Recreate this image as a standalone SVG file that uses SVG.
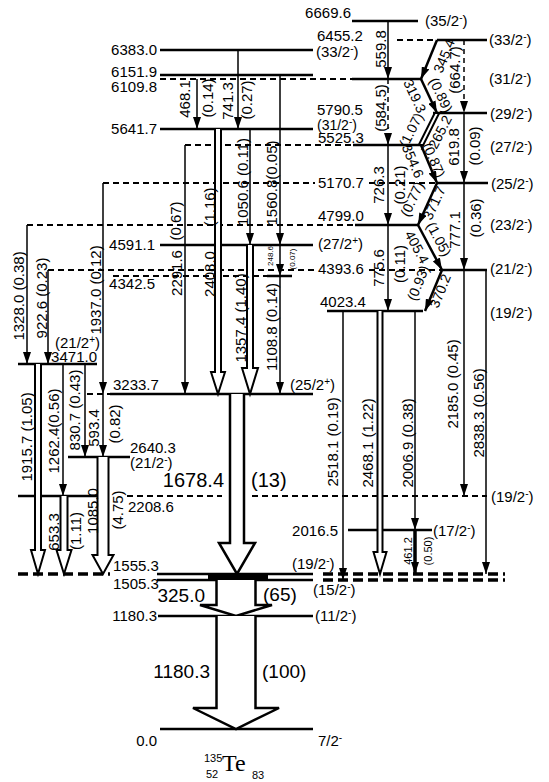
<svg xmlns="http://www.w3.org/2000/svg" width="549" height="782" viewBox="0 0 549 782">
<defs>
<style>
text{font-family:"Liberation Sans",Arial,sans-serif;font-size:15px;fill:#000}
.e{text-anchor:end}
.v{text-anchor:middle;dominant-baseline:central}
.s{font-size:10px;baseline-shift:super}
.big{font-size:19px}
.sm{font-size:8px}
.sm2{font-size:11px}
.zl{font-size:14px}
.lv{stroke:#000;stroke-width:2.5;fill:none}
.ld{stroke:#000;stroke-width:2;stroke-dasharray:6 4;fill:none}
.lk{stroke:#000;stroke-width:3.5;stroke-dasharray:10 5;fill:none}
.t{stroke:#000;stroke-width:1.5;fill:none;marker-end:url(#a)}
.td{stroke:#000;stroke-width:1.5;fill:none;stroke-dasharray:5 4;marker-end:url(#a)}
.z{stroke:#000;stroke-width:2.5;fill:none;marker-end:url(#a)}
.o{fill:#fff;stroke:#000;stroke-width:2;stroke-linejoin:miter}
</style>
<marker id="a" markerUnits="userSpaceOnUse" markerWidth="12" markerHeight="8" viewBox="0 0 12 8" refX="12" refY="4" orient="auto"><path d="M0,0L12,4L0,8z" fill="#000"/></marker>
</defs>
<rect width="549" height="782" fill="#fff"/>

<!-- levels -->
<g id="lvl-6669.6"><path class="lv" d="M352,21H418"/><text class="e" x="351" y="18">6669.6</text><text x="425" y="26">(35/2<tspan class="s">-</tspan>)</text></g>
<g id="lvl-6455.2"><path class="ld" d="M397,40H437"/><path class="lv" d="M437,40H487"/><text x="317" y="41">6455.2</text><text x="489" y="45">(33/2<tspan class="s">-</tspan>)</text></g>
<g id="lvl-6383.0"><path class="lv" d="M160,50H313"/><text class="e" x="157" y="55">6383.0</text><text x="316" y="57">(33/2<tspan class="s">-</tspan>)</text></g>
<g id="lvl-6151.9"><path class="lv" d="M160,75H313"/><text class="e" x="157" y="77">6151.9</text></g>
<g id="lvl-6109.8"><path class="ld" d="M160,79H352"/><path class="lv" d="M352,79H421"/><text class="e" x="157" y="92">6109.8</text><text x="489" y="84">(31/2<tspan class="s">-</tspan>)</text></g>
<g id="lvl-5790.5"><path class="lv" d="M433,113H487"/><text x="317" y="115">5790.5</text><text x="490" y="119">(29/2<tspan class="s">-</tspan>)</text></g>
<g id="lvl-5641.7"><path class="lv" d="M160,129H313"/><text class="e" x="157" y="134">5641.7</text><text x="317" y="130" style="font-size:14px">(31/2<tspan class="s">-</tspan>)</text></g>
<g id="lvl-5525.3"><path class="ld" d="M185,145H353"/><path class="lv" d="M353,145H421"/><text x="318" y="143">5525.3</text><text x="490" y="152">(27/2<tspan class="s">-</tspan>)</text></g>
<g id="lvl-5170.7"><path class="ld" d="M103,183H315M369,183H437"/><path class="lv" d="M437,183H488"/><text x="318" y="188">5170.7</text><text x="491" y="189">(25/2<tspan class="s">-</tspan>)</text></g>
<g id="lvl-4799.0"><path class="ld" d="M27,225H355"/><path class="lv" d="M355,225H418"/><text x="318" y="221">4799.0</text><text x="490" y="230">(23/2<tspan class="s">-</tspan>)</text></g>
<g id="lvl-4591.1"><path class="lv" d="M160,245H313"/><text class="e" x="155" y="250">4591.1</text><text x="318" y="249">(27/2<tspan class="s">+</tspan>)</text></g>
<g id="lvl-4393.6"><path class="ld" d="M48,270H315M369,270H442"/><path class="lv" d="M442,270H487"/><text x="318" y="274">4393.6</text><text x="490" y="274">(21/2<tspan class="s">-</tspan>)</text></g>
<g id="lvl-4342.5"><path class="ld" d="M113,276H267"/><path class="lv" d="M267,276H292"/><text class="e" x="155" y="289">4342.5</text></g>
<g id="lvl-4023.4"><path class="lv" d="M327,311H423"/><text x="320" y="307">4023.4</text><text x="490" y="318">(19/2<tspan class="s">-</tspan>)</text></g>
<g id="lvl-3471.0"><path class="lv" d="M18,364H97"/><text class="e" x="97" y="362">3471.0</text><text x="55" y="348">(21/2<tspan class="s">+</tspan>)</text></g>
<g id="lvl-3233.7"><path class="ld" d="M87,394H110"/><path class="lv" d="M110,394H313"/><text x="113" y="390">3233.7</text><text x="290" y="390">(25/2<tspan class="s">+</tspan>)</text></g>
<g id="lvl-2640.3"><path class="lv" d="M68,457H130"/><text x="130" y="453">2640.3</text><text x="130" y="468">(21/2<tspan class="s">-</tspan>)</text></g>
<g id="lvl-2208.6"><path class="lv" d="M18,496H107"/><path class="ld" d="M127,496H222M252,496H487"/><text x="128" y="512">2208.6</text><text x="491" y="502">(19/2<tspan class="s">-</tspan>)</text></g>
<g id="lvl-2016.5"><path class="lv" d="M348,530H432"/><text class="e" x="338" y="536">2016.5</text><text x="433" y="536">(17/2<tspan class="s">-</tspan>)</text></g>
<g id="lvl-1555.3"><path class="lk" d="M18,574H110"/><path class="lv" d="M157,574H313"/><path class="lk" d="M323,574H505"/><text x="113" y="571">1555.3</text><text x="292" y="569">(19/2<tspan class="s">-</tspan>)</text></g>
<g id="lvl-1505.3"><path class="lv" d="M157,580H313"/><path class="lk" d="M323,580H505"/><text x="113" y="589">1505.3</text><text x="313" y="595">(15/2<tspan class="s">-</tspan>)</text></g>
<g id="lvl-1180.3"><path class="lv" d="M158,616H313"/><text class="e" x="157" y="621">1180.3</text><text x="315" y="621">(11/2<tspan class="s">-</tspan>)</text></g>
<g id="lvl-0.0"><path class="lv" d="M160,729H313"/><text class="e" x="157" y="746">0.0</text><text x="318" y="746">7/2<tspan class="s">-</tspan></text></g>

<!-- connectors -->
<g id="connectors">
<path class="t" d="M197,79V129"/>
<path class="t" d="M238,50V129"/>
<path class="t" d="M250,129V245"/>
<path class="t" d="M280,75V245"/>
<path class="t" d="M280,245V276"/>
<path class="t" d="M280,276V394"/>
<path class="t" d="M185,145V394"/>
<path class="t" d="M103,183V394"/>
<path class="t" d="M103,394V457"/>
<path class="t" d="M27,225V364"/>
<path class="t" d="M48,270V364"/>
<path class="t" d="M85,364V457"/>
<path class="t" d="M63,364V496"/>
<path class="t" d="M388,21V79"/>
<path class="td" d="M388,79V145"/>
<path class="t" d="M388,145V225"/>
<path class="t" d="M388,225V311"/>
<path class="td" d="M464,40V113"/>
<path class="t" d="M464,113V183"/>
<path class="t" d="M464,183V270"/>
<path class="t" d="M464,270V496"/>
<path class="t" d="M486,270V574"/>
<path class="t" d="M343,311V580"/>
<path class="t" d="M415,311V530"/>
<path class="t" style="stroke-width:3.5" d="M415,530V574"/>
<path class="z" d="M437,40L421,79"/>
<path class="z" d="M421,79L437,113"/>
<path d="M434.75,113L418.75,145L423.25,145L439.25,113Z" fill="#fff" stroke="#000" stroke-width="2"/>
<path class="z" d="M421,145L437,183"/>
<path class="z" d="M437,183L418,225"/>
<path class="z" d="M418,225L442,270"/>
<path class="z" d="M442,270L425,311"/>
<path class="o" d="M215,129V372H211L218,394L225,372H221V129"/>
<path class="o" d="M247,245V368H242L250,394L258,368H253V245"/>
<path class="o" d="M35,364V550H31L38,574L45,550H41V364"/>
<path class="o" d="M60.5,496V550H56.5L64,574L71.5,550H67.5V496"/>
<path class="o" d="M97.5,457V555H92.5L103,574L113.5,555H108.5V457"/>
<path class="o" d="M377.5,311V552H373.5L380,574L386.5,552H382.5V311"/>
<path class="o" style="stroke-width:2.5" d="M230,394V543H219L237,574L255,543H244V394"/>
<rect x="208" y="574" width="60" height="7" fill="#000"/>
<path class="o" style="stroke-width:2.5" d="M216.5,580V605H200L236,616L272,605H255.5V580"/>
<path class="o" style="stroke-width:2.5" d="M216.5,616V708H193L236,729L279,708H255.5V616"/>

<!-- transition labels -->
<text class="v" transform="translate(184,99) rotate(-90)">468.1</text>
<text class="v" transform="translate(207,98) rotate(-90)">(0.14)</text>
<text class="v" transform="translate(227,101) rotate(-90)">741.3</text>
<text class="v" transform="translate(246,100) rotate(-90)">(0.27)</text>
<text class="v" transform="translate(175,221) rotate(-90)">(0.67)</text>
<text class="v" transform="translate(176,273) rotate(-90)">2291.6</text>
<text class="v" transform="translate(209,207) rotate(-90)">(1.16)</text>
<text class="v" transform="translate(209,274) rotate(-90)">2408.0</text>
<text class="v" transform="translate(242,182) rotate(-90)">1050.6 (0.11)</text>
<text class="v" transform="translate(271,183) rotate(-90)">1560.8(0.05)</text>
<text class="v" transform="translate(240,318) rotate(-90)">1357.4 (1.40)</text>
<text class="v" transform="translate(271,327) rotate(-90)">1108.8 (0.14)</text>
<text class="v sm" transform="translate(270,256) rotate(-90)">248.6</text>
<text class="v sm" transform="translate(292,259) rotate(-90)">(0.07)</text>
<text class="v" transform="translate(18,296) rotate(-90)">1328.0 (0.38)</text>
<text class="v" transform="translate(41,298) rotate(-90)">922.6 (0.23)</text>
<text class="v" transform="translate(95,290) rotate(-90)">1937.0 (0.12)</text>
<text class="v" transform="translate(26,437) rotate(-90)">1915.7 (1.05)</text>
<text class="v" transform="translate(53,431) rotate(-90)">1262.4(0.56)</text>
<text class="v" transform="translate(74,410) rotate(-90)">830.7 (0.43)</text>
<text class="v" transform="translate(93,428) rotate(-90)">593.4</text>
<text class="v" transform="translate(114,424) rotate(-90)">(0.82)</text>
<text class="v" transform="translate(92,511) rotate(-90)">1085.0</text>
<text class="v" transform="translate(117,510) rotate(-90)">(4.75)</text>
<text class="v" transform="translate(53,532) rotate(-90)">653.3</text>
<text class="v" transform="translate(75,531) rotate(-90)">(1.11)</text>
<text class="v" transform="translate(380,49) rotate(-90)">559.8</text>
<text class="v" transform="translate(380,108) rotate(-90)">(584.5)</text>
<text class="v" transform="translate(378,185) rotate(-90)">726.3</text>
<text class="v" transform="translate(399,185) rotate(-90)">(0.21)</text>
<text class="v" transform="translate(378,268) rotate(-90)">775.6</text>
<text class="v" transform="translate(399,264) rotate(-90)">(0.11)</text>
<text class="v" transform="translate(332,442) rotate(-90)">2518.1 (0.19)</text>
<text class="v" transform="translate(367,443) rotate(-90)">2468.1 (1.22)</text>
<text class="v" transform="translate(407,443) rotate(-90)">2006.9 (0.38)</text>
<text class="v" transform="translate(452,384) rotate(-90)">2185.0 (0.45)</text>
<text class="v" transform="translate(478,413) rotate(-90)">2838.3 (0.56)</text>
<text class="v sm2" transform="translate(408,551) rotate(-90)">461.2</text>
<text class="v sm2" transform="translate(428,551) rotate(-90)">(0.50)</text>
<text class="v" transform="translate(454,70) rotate(-90)">(664.7)</text>
<text class="v" transform="translate(453,147) rotate(-90)">619.8</text>
<text class="v" transform="translate(474,146) rotate(-90)">(0.09)</text>
<text class="v" transform="translate(454,230) rotate(-90)">777.1</text>
<text class="v" transform="translate(475,218) rotate(-90)">(0.36)</text>
<text class="v zl" transform="translate(444,56) rotate(-68)">345.4</text>
<text class="v zl" transform="translate(415,96) rotate(65)">319.3</text>
<text class="v zl" transform="translate(441,95) rotate(65)">(0.89)</text>
<text class="v zl" transform="translate(411,130) rotate(-63)">(1.07)</text>
<text class="v zl" transform="translate(440,132) rotate(-63)">265.2</text>
<text class="v zl" transform="translate(413,161) rotate(67)">354.6</text>
<text class="v zl" transform="translate(434,160) rotate(67)">(0.87)</text>
<text class="v zl" transform="translate(412,199) rotate(-65)">(0.77)</text>
<text class="v zl" transform="translate(434,203) rotate(-65)">371.7</text>
<text class="v zl" transform="translate(439,239) rotate(62)">(1.05)</text>
<text class="v zl" transform="translate(417,247) rotate(62)">405.4</text>
<text class="v zl" transform="translate(418,283) rotate(-68)">(0.93)</text>
<text class="v zl" transform="translate(440,291) rotate(-68)">370.2</text>
<text class="e" style="font-size:20px" x="224" y="487">1678.4</text>
<text style="font-size:20px" x="251" y="487">(13)</text>
<text class="e big" x="205" y="602">325.0</text>
<text class="big" x="263" y="601">(65)</text>
<text class="e big" x="210" y="678">1180.3</text>
<text class="big" x="262" y="678">(100)</text>
</g>

<g id="title">
<text x="204" y="762" style="font-size:11px">135</text>
<text x="206" y="778" style="font-size:11px">52</text>
<text x="222" y="771" style="font-family:'Liberation Serif',serif;font-size:24px">Te</text>
<text x="252" y="779" style="font-size:11px">83</text>
</g>
</svg>
